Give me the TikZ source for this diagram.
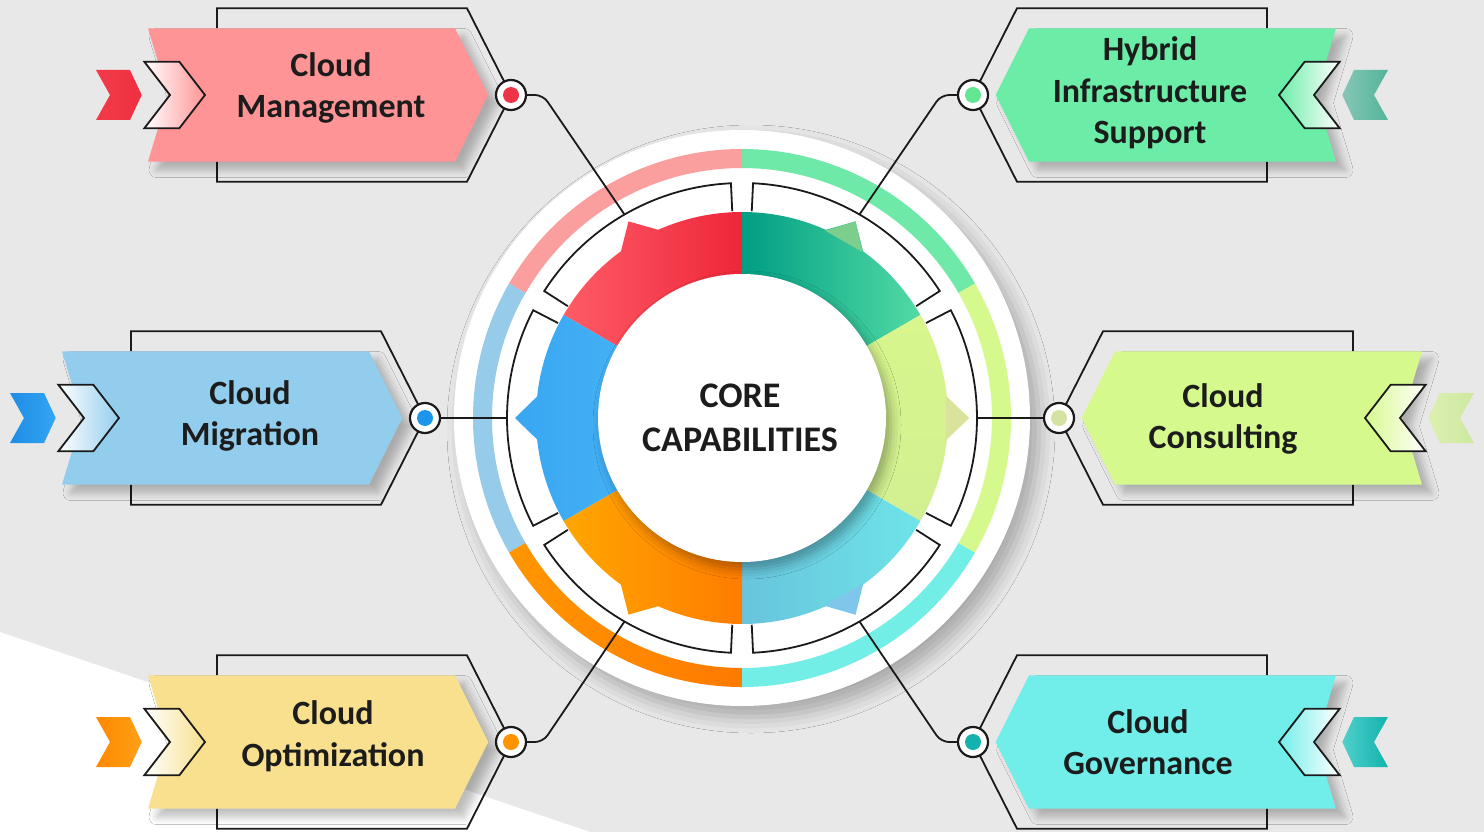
\documentclass[tikz,border=0pt]{standalone}
\usepackage{fontspec}
\setmainfont{Carlito}
\usetikzlibrary{shadows.blur}
\definecolor{bg}{HTML}{E8E8E8}
\definecolor{txt}{HTML}{1C1C1C}
\definecolor{ln}{HTML}{1A1A1A}
% box colours
\definecolor{cmg}{HTML}{FF9496}
\definecolor{chy}{HTML}{6BEDA8}
\definecolor{cmi}{HTML}{93CDEE}
\definecolor{cco}{HTML}{D6F98E}
\definecolor{cop}{HTML}{F8E08E}
\definecolor{cgo}{HTML}{72EEEA}
% chevrons (outer, inner)
\definecolor{vmgA}{RGB}{244,58,74}   \definecolor{vmgB}{RGB}{238,48,64}
\definecolor{vmiA}{RGB}{30,140,230}  \definecolor{vmiB}{RGB}{52,166,242}
\definecolor{vopA}{RGB}{255,136,0}   \definecolor{vopB}{RGB}{255,160,24}
\definecolor{vhyA}{RGB}{84,180,155}  \definecolor{vhyB}{RGB}{134,198,182}
\definecolor{vcoA}{RGB}{205,232,160} \definecolor{vcoB}{RGB}{220,240,176}
\definecolor{vgoA}{RGB}{18,178,172}  \definecolor{vgoB}{RGB}{80,208,204}
% dots
\definecolor{dmgc}{RGB}{238,52,72}
\definecolor{dhyc}{RGB}{99,229,146}
\definecolor{dmic}{RGB}{30,149,236}
\definecolor{dcoc}{RGB}{213,227,162}
\definecolor{dopc}{RGB}{255,147,0}
\definecolor{dgoc}{RGB}{19,178,174}
% outer ring
\definecolor{rpink}{HTML}{FA9E9E}
\definecolor{rgreen}{HTML}{6EE9A8}
\definecolor{rlime}{HTML}{D6F98E}
\definecolor{rcyan}{HTML}{72EEE6}
\definecolor{rorangeA}{RGB}{255,150,0}
\definecolor{rorangeB}{RGB}{255,122,0}
\definecolor{rblue}{HTML}{96CBEA}
% inner ring
\definecolor{iredA}{RGB}{255,92,102}   \definecolor{iredB}{RGB}{238,38,58}
\definecolor{igrnA}{RGB}{0,158,132}    \definecolor{igrnB}{RGB}{82,218,164}
\definecolor{igrnT}{RGB}{125,205,140}
\definecolor{ilimA}{RGB}{216,246,140}  \definecolor{ilimB}{RGB}{210,240,146}
\definecolor{ilimT}{RGB}{218,226,156}
\definecolor{icyaA}{RGB}{104,196,220}  \definecolor{icyaB}{RGB}{110,228,232}
\definecolor{icyaT}{RGB}{128,198,236}
\definecolor{iorgA}{RGB}{255,166,0}    \definecolor{iorgB}{RGB}{255,124,0}
\definecolor{ibluA}{RGB}{56,166,242}   \definecolor{ibluB}{RGB}{68,176,244}
\tikzset{
  outl/.style={draw=ln, line width=1.8pt, line join=miter},
  conn/.style={draw=ln, line width=1.8pt, rounded corners=8pt},
  brk/.style={draw=ln, line width=1.8pt},
  dotring/.style={circle, draw=ln, line width=2.2pt, fill=white, minimum size=30pt, inner sep=0pt},
  dotin/.style={circle, minimum size=16pt, inner sep=0pt},
  lbl/.style={font=\fontsize{34}{41.5}\selectfont\bfseries, text=txt, align=center, inner sep=0pt},
  boxshadow/.style={blur shadow={shadow xshift=9pt, shadow yshift=-8pt, shadow blur radius=8pt, shadow opacity=26}},
}
% #1,#2 dot position, #3 side sign (1 left, -1 right), #4 shape colour,
% #5,#6 outlined chevron left/right colour, #7,#8 solid chevron left/right colour
\newcommand\capbox[8]{%
\begin{scope}[shift={(#1,#2)}]
  \def\s{#3}
  \draw[outl] ({\s*-294},66.7) -- ({\s*-294},86.7) -- ({\s*-44},86.7) -- (0,0) -- ({\s*-44},-86.7) -- ({\s*-294},-86.7) -- ({\s*-294},-66.7);
  \fill[#4, boxshadow] ({\s*-363},66.7) -- ({\s*-56},66.7) -- ({\s*-22.7},0) -- ({\s*-56},-66.7) -- ({\s*-363},-66.7) -- ({\s*-343},0) -- cycle;
  \shade[left color=#5, right color=#6] ({\s*-366.7},33.3) -- ({\s*-331.7},33.3) -- ({\s*-306},0) -- ({\s*-331.7},-33.3) -- ({\s*-366.7},-33.3) -- ({\s*-341},0) -- cycle;
  \draw[outl] ({\s*-366.7},33.3) -- ({\s*-331.7},33.3) -- ({\s*-306},0) -- ({\s*-331.7},-33.3) -- ({\s*-366.7},-33.3) -- ({\s*-341},0) -- cycle;
  \shade[left color=#7, right color=#8] ({\s*-415},25) -- ({\s*-381},25) -- ({\s*-369.3},0) -- ({\s*-381},-25) -- ({\s*-415},-25) -- ({\s*-401},0) -- cycle;
\end{scope}}
\begin{document}
\begin{tikzpicture}[x=1pt,y=1pt]
\useasboundingbox (0,0) rectangle (1484,-832);
\fill[bg] (0,0) rectangle (1484,-832);
\fill[white] (0,-632) -- (590,-832) -- (0,-832) -- cycle;

% ---------- central wheel ----------
\begin{scope}[shift={(742,-418)}]
  \fill[white, blur shadow={shadow xshift=9pt, shadow yshift=-11pt, shadow blur radius=16pt, shadow opacity=28}] (0,0) circle (288pt);
  % outer coloured ring
  \fill[rgreen]  (30:269pt) arc (30:90:269pt) -- (90:250pt) arc (90:30:250pt) -- cycle;
  \fill[rpink]   (90:269pt) arc (90:150:269pt) -- (150:250pt) arc (150:90:250pt) -- cycle;
  \fill[rblue]   (150:269pt) arc (150:210:269pt) -- (210:250pt) arc (210:150:250pt) -- cycle;
  \shade[left color=rorangeA, right color=rorangeB] (210:269pt) arc (210:270:269pt) -- (270:250pt) arc (270:210:250pt) -- cycle;
  \fill[rcyan]   (270:269pt) arc (270:330:269pt) -- (330:250pt) arc (330:270:250pt) -- cycle;
  \fill[rlime]   (330:269pt) arc (330:390:269pt) -- (390:250pt) arc (390:330:250pt) -- cycle;
  % inner coloured ring with teeth
  \shade[left color=iredA, right color=iredB]
    (90:206pt) arc (90:114:206pt) -- (120:227pt) -- (126:206pt) arc (126:150:206pt) -- (150:140pt) arc (150:90:140pt) -- cycle;
  \shade[left color=igrnA, right color=igrnB]
    (30:206pt) arc (30:54:206pt) -- (60:227pt) -- (66:206pt) arc (66:90:206pt) -- (90:140pt) arc (90:30:140pt) -- cycle;
  \fill[igrnT] (54:205pt) -- (60:227pt) -- (66:205pt) -- cycle;
  \shade[top color=ilimA, bottom color=ilimB]
    (-30:206pt) arc (-30:-6:206pt) -- (0:227pt) -- (6:206pt) arc (6:30:206pt) -- (30:140pt) arc (30:-30:140pt) -- cycle;
  \fill[ilimT] (-6:205pt) -- (0:227pt) -- (6:205pt) -- cycle;
  \shade[left color=icyaA, right color=icyaB]
    (-90:206pt) arc (-90:-66:206pt) -- (-60:227pt) -- (-54:206pt) arc (-54:-30:206pt) -- (-30:140pt) arc (-30:-90:140pt) -- cycle;
  \fill[icyaT] (-66:205pt) -- (-60:227pt) -- (-54:205pt) -- cycle;
  \shade[left color=iorgA, right color=iorgB]
    (-150:206pt) arc (-150:-126:206pt) -- (-120:227pt) -- (-114:206pt) arc (-114:-90:206pt) -- (-90:140pt) arc (-90:-150:140pt) -- cycle;
  \shade[left color=ibluA, right color=ibluB]
    (150:206pt) arc (150:174:206pt) -- (180:227pt) -- (186:206pt) arc (186:210:206pt) -- (210:140pt) arc (210:150:140pt) -- cycle;
  % inner white disc
  \fill[white, blur shadow={shadow xshift=5pt, shadow yshift=-7pt, shadow blur radius=10pt, shadow opacity=32}] (0,0) circle (144pt);
  % brackets
  \foreach \a in {30,90,150,210,270,330}{
    \draw[brk] (\a+2.7:207pt) -- (\a+2.7:235pt) arc (\a+2.7:\a+57.3:235pt) -- (\a+57.3:207pt);
  }
  \coordinate (bmg) at (120:235pt);
  \coordinate (bhy) at (60:235pt);
  \coordinate (bmi) at (180:235pt);
  \coordinate (bco) at (0:235pt);
  \coordinate (bop) at (240:235pt);
  \coordinate (bgo) at (300:235pt);
  \node[font=\fontsize{36}{44}\selectfont\bfseries, text=txt, align=center, inner sep=0pt] (core) at (-2,0) {CORE\\CAPABILITIES};
\end{scope}

% ---------- boxes ----------
\capbox{511}{-95}{1}{cmg}{white}{cmg}{vmgA}{vmgB}
\capbox{425}{-418}{1}{cmi}{white}{cmi}{vmiA}{vmiB}
\capbox{511}{-742}{1}{cop}{white}{cop}{vopA}{vopB}
\capbox{973}{-95}{-1}{chy}{chy}{white}{vhyB}{vhyA}
\capbox{1059}{-418}{-1}{cco}{cco}{white}{vcoB}{vcoA}
\capbox{973}{-742}{-1}{cgo}{cgo}{white}{vgoB}{vgoA}

% ---------- connectors ----------
\coordinate (kmg) at (543,-95);
\coordinate (khy) at (941,-95);
\coordinate (kop) at (543,-742);
\coordinate (kgo) at (941,-742);

\node[dotring] (dmg) at (511,-95) {};
\node[dotring] (dhy) at (973,-95) {};
\node[dotring] (dmi) at (425,-418) {};
\node[dotring] (dco) at (1059,-418) {};
\node[dotring] (dop) at (511,-742) {};
\node[dotring] (dgo) at (973,-742) {};

\draw[conn] (dmg.east) -- (kmg) -- (bmg);
\draw[conn] (dhy.west) -- (khy) -- (bhy);
\draw[conn] (dmi.east) -- (bmi);
\draw[conn] (dco.west) -- (bco);
\draw[conn] (dop.east) -- (kop) -- (bop);
\draw[conn] (dgo.west) -- (kgo) -- (bgo);

\node[dotin, fill=dmgc] (imgd) at (dmg) {};
\node[dotin, fill=dhyc] (ihyd) at (dhy) {};
\node[dotin, fill=dmic] (imid) at (dmi) {};
\node[dotin, fill=dcoc] (icod) at (dco) {};
\node[dotin, fill=dopc] (iopd) at (dop) {};
\node[dotin, fill=dgoc] (igod) at (dgo) {};

% ---------- labels ----------
\node[lbl] (tmg) at (331,-88) {Cloud\\Management};
\node[lbl] (thy) at (1150,-93) {Hybrid\\Infrastructure\\Support};
\node[lbl] (tmi) at (250,-416) {Cloud\\Migration};
\node[lbl] (tco) at (1223,-419) {Cloud\\Consulting};
\node[lbl] (top) at (333,-736) {Cloud\\Optimization};
\node[lbl] (tgo) at (1148,-742) {Cloud\\Governance};
\end{tikzpicture}
\end{document}
